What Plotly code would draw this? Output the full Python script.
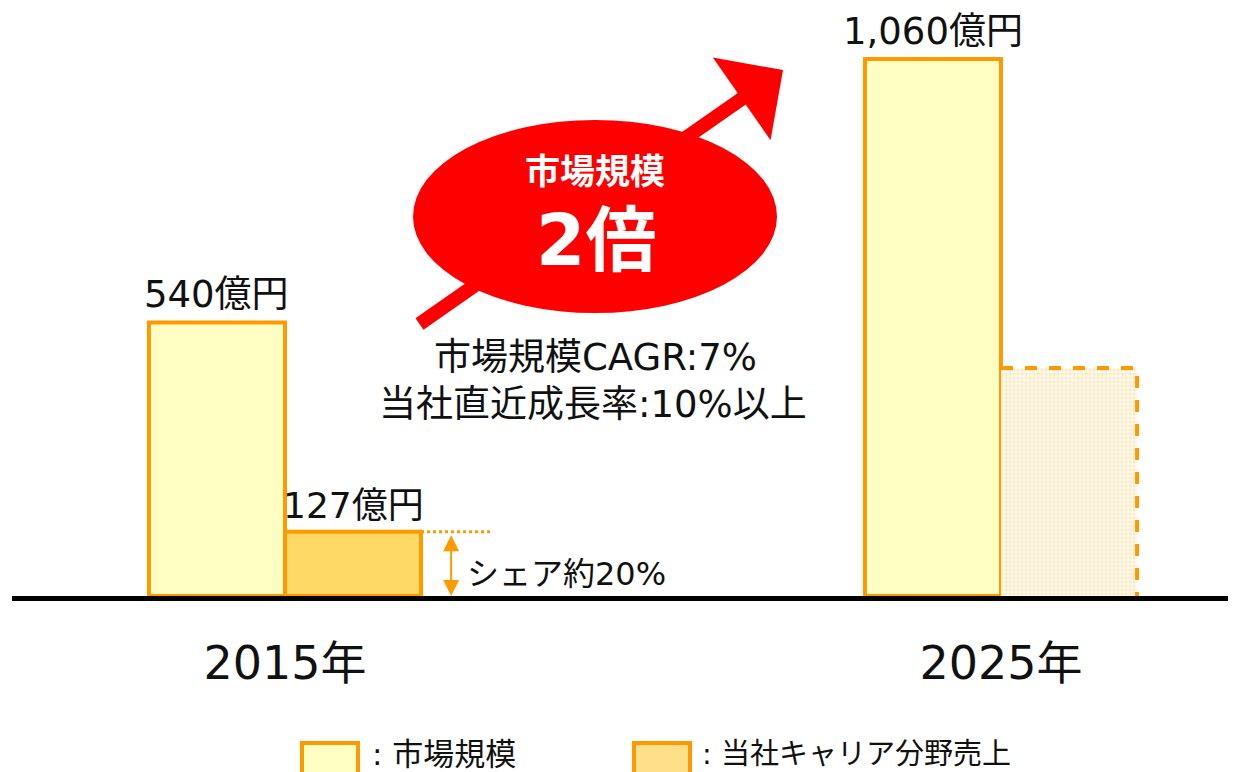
import plotly.graph_objects as go

years = ["2015年", "2025年"]
market = [540, 1060]
company = [127, 450]
market_labels = ["540億円", "1,060億円"]
company_labels = ["127億円", ""]

FONT = "DejaVu Sans, Noto Sans CJK JP"
ORANGE = "#FF9900"
TXT = "#111111"
W = 0.19  # bar width in x units
x = [0, 1]

# page has an 8px body margin, so plot area (in screen px) is left 12, top 8, baseline 596
L, PW, PH = 4, 1232, 588
def px(v):
    return (v - 12) / PW
def py(v):
    return (596 - v) / PH

fig = go.Figure()

fig.add_trace(go.Bar(
    x=x, y=market, width=W, offset=-W,
    marker=dict(color="#FFFFC4", line=dict(color=ORANGE, width=4)),
    name="市場規模",
))
# 2015 actual (solid), 2025 forecast (dotted pattern, dashed outline)
fig.add_trace(go.Bar(
    x=x[:1], y=company[:1], width=W, offset=0,
    marker=dict(color="#FFD966", line=dict(color=ORANGE, width=4)),
    name="当社キャリア分野売上",
))
fig.add_trace(go.Bar(
    x=x[1:], y=company[1:], width=W, offset=0,
    marker=dict(color="white", line=dict(width=0),
                pattern=dict(shape=".", fgcolor="#FFD680", bgcolor="white",
                             size=4, solidity=0.6)),
    name="当社キャリア分野売上(予)",
))
fig.add_trace(go.Scatter(
    x=[x[1], x[1] + W, x[1] + W], y=[company[1], company[1], 0],
    mode="lines", line=dict(color=ORANGE, width=4, dash="dash"),
    hoverinfo="skip",
))
# dotted guide at 2015 company level
fig.add_trace(go.Scatter(
    x=[x[0] + W, x[0] + W + 0.1], y=[company[0], company[0]],
    mode="lines", line=dict(color=ORANGE, width=3, dash="dot"),
    hoverinfo="skip",
))

ann = []
for i in range(2):
    ann.append(dict(x=x[i] - W / 2, y=market[i], text=market_labels[i],
                    showarrow=False, xanchor="center", yanchor="bottom", yshift=4,
                    font=dict(size=37, color=TXT)))
    if company_labels[i]:
        ann.append(dict(x=x[i] + W / 2, y=company[i], text=company_labels[i],
                        showarrow=False, xanchor="center", yanchor="bottom", yshift=4,
                        font=dict(size=36, color=TXT)))

# share bracket
ann.append(dict(x=x[0] + 0.232, y=0, ax=x[0] + 0.232, ay=company[0] - 4,
                axref="x", ayref="y", text="", showarrow=True,
                arrowside="end+start", arrowhead=2, arrowsize=1.6,
                arrowwidth=2, arrowcolor=ORANGE))
ann.append(dict(x=x[0] + 0.251, y=43, text="シェア約20%", showarrow=False,
                xanchor="left", yanchor="middle", font=dict(size=32, color=TXT)))

# growth arrow
ann.append(dict(xref="paper", yref="paper", x=px(783), y=py(70),
                ax=418 - 783, ay=325 - 70, text="", showarrow=True,
                arrowhead=1, arrowsize=1.2, arrowwidth=14, arrowcolor="#FF0000",
                standoff=0))
ann.append(dict(xref="paper", yref="paper", x=px(595), y=py(172),
                text="<b>市場規模</b>", showarrow=False,
                xanchor="center", yanchor="middle",
                font=dict(size=35, color="white")))
ann.append(dict(xref="paper", yref="paper", x=px(596), y=py(240),
                text="<b>2倍</b>", showarrow=False,
                xanchor="center", yanchor="middle",
                font=dict(size=71, color="white")))
ann.append(dict(xref="paper", yref="paper", x=px(595), y=py(357),
                text="市場規模CAGR:7%", showarrow=False,
                xanchor="center", yanchor="middle",
                font=dict(size=37, color=TXT)))
ann.append(dict(xref="paper", yref="paper", x=px(593), y=py(405),
                text="当社直近成長率:10%以上", showarrow=False,
                xanchor="center", yanchor="middle",
                font=dict(size=37, color=TXT)))

# legend (custom)
ann.append(dict(xref="paper", yref="paper", x=px(370), y=py(754),
                text=": 市場規模", showarrow=False, xanchor="left", yanchor="middle",
                font=dict(size=31, color=TXT)))
ann.append(dict(xref="paper", yref="paper", x=px(700), y=py(754),
                text=": 当社キャリア分野売上", showarrow=False, xanchor="left",
                yanchor="middle", font=dict(size=29, color=TXT)))

shapes = [
    dict(type="circle", xref="paper", yref="paper", x0=px(413), x1=px(777),
         y0=py(313), y1=py(120), fillcolor="#FF0000", line=dict(width=0),
         layer="above"),
    dict(type="rect", xref="paper", yref="paper", x0=px(302), x1=px(358),
         y0=py(785), y1=py(743), fillcolor="#FFFFC4",
         line=dict(color=ORANGE, width=4)),
    dict(type="rect", xref="paper", yref="paper", x0=px(634), x1=px(690),
         y0=py(785), y1=py(743), fillcolor="#FFE08A",
         line=dict(color=ORANGE, width=4)),
]

fig.update_layout(
    width=1236, height=772,
    margin=dict(l=L, r=0, t=0, b=772 - PH),
    paper_bgcolor="white", plot_bgcolor="white",
    font=dict(family=FONT, color=TXT),
    showlegend=False,
    annotations=ann, shapes=shapes,
)
x0 = -(285 - 12) / 716
fig.update_xaxes(range=[x0, x0 + PW / 716], tickvals=x, ticktext=years,
                 tickfont=dict(size=46, color=TXT), showgrid=False,
                 zeroline=False, showline=True, linecolor="black", linewidth=5,
                 ticks="", ticklabelstandoff=23)
fig.update_yaxes(range=[0, PH * 1060 / 537], visible=False)

fig.write_html("out.html")
